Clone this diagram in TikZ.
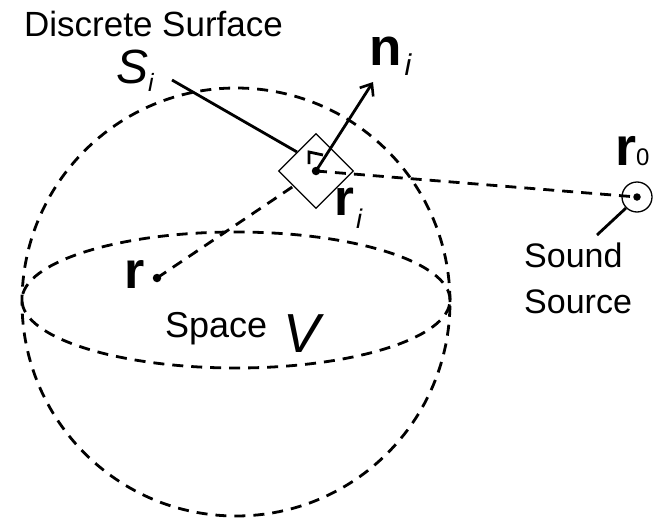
\documentclass[tikz,border=0pt]{standalone}
\usepackage{fontspec}
\setmainfont{Liberation Sans}
\usetikzlibrary{shapes.geometric,arrows.meta}
\begin{document}
\begin{tikzpicture}[x=1pt,y=-1pt,
  dsh/.style={line width=2.8pt,dash pattern=on 11pt off 8pt},
  lead/.style={line width=2.8pt},
  thinline/.style={line width=1.3pt},
  lbl/.style={inner sep=0pt,anchor=base west},
  dotc/.style={circle,fill=black,inner sep=0pt,minimum size=8.5pt}]
\useasboundingbox (0,0) rectangle (654,525);
% sphere and equator
\draw[dsh] (236,302) circle (214pt);
\draw[dsh] (236,300) ellipse (214pt and 68pt);
% surface element
\node[diamond,draw,thinline,minimum width=75pt,minimum height=75pt,inner sep=0pt] (si) at (316,171) {};
\node[dotc] (ri) at (316,171) {};
\node[dotc] (r) at (157,278) {};
\node[circle,draw,thinline,minimum size=30pt,inner sep=0pt] (src) at (637,197) {};
\node[dotc,minimum size=7.5pt] (r0) at (637,197) {};
% connectors
\draw[dsh] (r.center) -- (si);
\draw[dsh] (ri.center) -- (r0.center);
\coordinate (ntip) at (373,82);
\draw[lead,-{Straight Barb[length=10pt,width=16pt,line width=2.6pt]}] (ri.center) -- (ntip);
\coordinate (sl) at (172,80);
\draw[lead] (sl) -- (si.north west);
\coordinate (srcl) at (597,235);
\draw[lead] (src.south west) -- (srcl);
% right angle mark
\draw[lead] (309,164) -- (309,152) -- (323,155);
% labels
\node[lbl,font=\fontsize{35}{40}\selectfont] (ds) at (24,36) {Discrete Surface};
\node[lbl,font=\fontsize{48}{50}\selectfont\itshape] (slbl) at (116,83) {S\raisebox{-8pt}{\fontsize{25}{25}\selectfont i}};
\node[lbl,font=\fontsize{53}{56}\selectfont\bfseries] (nlbl) at (369,65) {n\kern3pt\raisebox{-10pt}{\fontsize{30}{30}\selectfont\mdseries\itshape i}};
\node[lbl,font=\fontsize{51}{52}\selectfont\bfseries] (rilbl) at (334,215) {r\kern2pt\raisebox{-13pt}{\fontsize{27}{27}\selectfont\mdseries\itshape i}};
\node[lbl,font=\fontsize{54}{56}\selectfont\bfseries] (r0lbl) at (615,165) {r{\fontsize{24}{24}\selectfont\mdseries 0}};
\node[lbl,font=\fontsize{52}{52}\selectfont\bfseries] (rlbl) at (124,288) {r};
\node[lbl,font=\fontsize{36}{40}\selectfont] (space) at (165,337) {Space\kern16pt\raisebox{-15pt}{\fontsize{55}{56}\selectfont\itshape V}};
\node[inner sep=0pt,anchor=north west,align=left,font=\fontsize{34}{46}\selectfont] (sound) at (524,243) {Sound\\Source};
\end{tikzpicture}
\end{document}
